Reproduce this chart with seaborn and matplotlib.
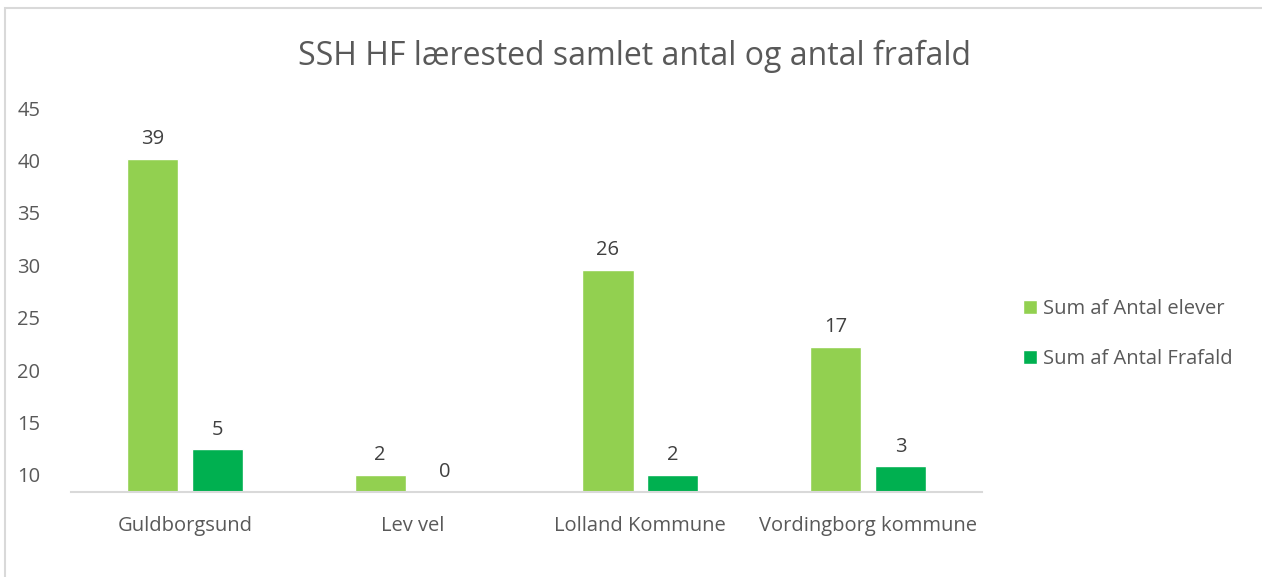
import matplotlib
matplotlib.use("Agg")
import matplotlib.pyplot as plt
import matplotlib.patches as mpatches
import pandas as pd
import seaborn as sns

# data
steder = ["Guldborgsund", "Lev vel", "Lolland Kommune", "Vordingborg kommune"]
antal_elever = [39, 2, 26, 17]
antal_frafald = [5, 0, 2, 3]
serier = ["Sum af Antal elever", "Sum af Antal Frafald"]
y_labels = ["10", "15", "20", "25", "30", "35", "40", "45"]
y_pos = [2 + i * (45 - 2) / 7 for i in range(8)]  # where the labels sit in the source

df = pd.DataFrame({
    "sted": steder * 2,
    "antal": antal_elever + antal_frafald,
    "serie": [serier[0]] * len(steder) + [serier[1]] * len(steder),
})

sns.set_theme(style="white")
plt.rcParams["font.family"] = ["Open Sans", "DejaVu Sans"]
FS = 14.5

fig = plt.figure(figsize=(12.62, 5.77), dpi=100)
ax = fig.add_axes([71 / 1262, 1 - 492 / 577, (982 - 71) / 1262, (492 - 108) / 577])

sns.barplot(data=df, x="sted", y="antal", hue="serie", ax=ax,
            palette=["#92D050", "#00B050"], width=0.57, gap=0.21,
            saturation=1, legend=True)

for cont in ax.containers:
    ax.bar_label(cont, padding=7, fontsize=FS, color="#404040")

ax.set_ylim(0, 45)
ax.set_xlim(-0.5, 3.5)
ax.set_yticks(y_pos)
ax.set_yticklabels(y_labels)
ax.tick_params(axis="y", length=0, pad=22, labelsize=FS, labelcolor="#595959")
ax.tick_params(axis="x", length=0, pad=17, labelsize=FS, labelcolor="#595959")
ax.set_xlabel("")
ax.set_ylabel("")
for s in ["top", "right", "left"]:
    ax.spines[s].set_visible(False)
ax.spines["bottom"].set_color("#d9d9d9")
ax.spines["bottom"].set_linewidth(1.5)

handles, labels = ax.get_legend_handles_labels()
ax.get_legend().remove()
fig.legend(handles, labels, loc="center left", bbox_to_anchor=(1005 / 1262, 1 - 334 / 577),
           frameon=False, fontsize=FS, labelcolor="#595959", handlelength=0.7,
           handleheight=0.7, handletextpad=0.3, labelspacing=1.5)

fig.text(635 / 1262, 1 - 56 / 577, "SSH HF lærested samlet antal og antal frafald",
         ha="center", va="center", fontsize=23, color="#595959")

# chart frame
fig.patches.append(mpatches.Rectangle((5 / 1262, -0.1), 1.1, 1 - 8 / 577 + 0.1,
                                      transform=fig.transFigure, fill=False,
                                      edgecolor="#d9d9d9", linewidth=1.5))

fig.savefig("out.png", dpi=100)
